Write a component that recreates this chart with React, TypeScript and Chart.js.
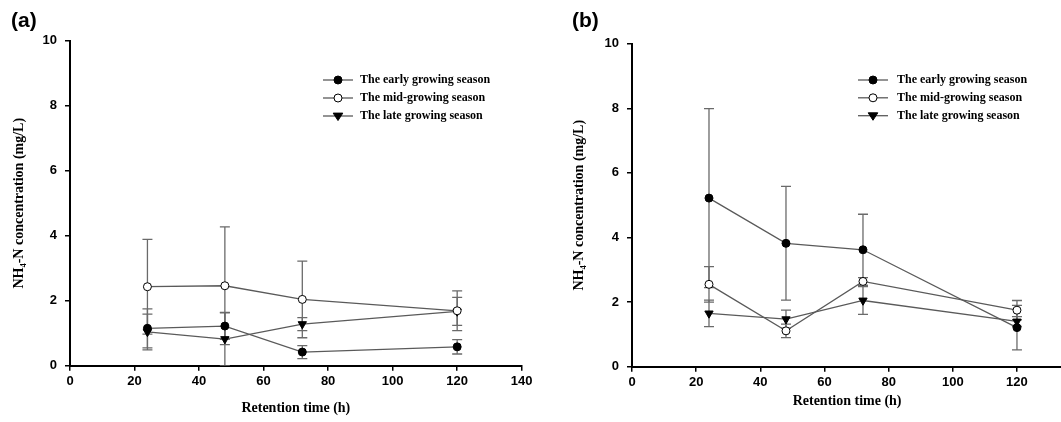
import React, { useEffect, useRef } from 'react';
import { Chart, registerables } from 'chart.js';

Chart.register(...registerables);

// ---------- data ----------
const hours = [24, 48, 72, 120];
const seriesNames = ['The early growing season', 'The mid-growing season', 'The late growing season'];
const xTicksA = [0, 20, 40, 60, 80, 100, 120, 140];
const xTicksB = [0, 20, 40, 60, 80, 100, 120];
const yTicks = [0, 2, 4, 6, 8, 10];
const yTitle = 'NH\u2084-N concentration (mg/L)';
const xTitle = 'Retention time (h)';

// Panel (a)
const earlyA = [1.15, 1.22, 0.42, 0.58];
const earlyAErr = [0.6, 0.41, 0.2, 0.22];
const midA = [2.43, 2.46, 2.04, 1.69];
const midAErr = [1.46, 1.81, 1.18, 0.61];
const lateA = [1.04, 0.82, 1.28, 1.67];
const lateAErr = [0.55, 0.82, 0.2, 0.43];

// Panel (b)
const earlyB = [5.22, 3.82, 3.62, 1.21];
const earlyBErr = [2.77, 1.76, 1.1, 0.69];
const midB = [2.55, 1.11, 2.64, 1.75];
const midBErr = [0.55, 0.21, 0.12, 0.3];
const lateB = [1.65, 1.47, 2.05, 1.4];
const lateBErr = [0.41, 0.28, 0.43, 0.15];

// ---------- styles ----------
const LINE = '#5a5a5a';
const ERR = '#6a6a6a';
const SANS = "'Liberation Sans', Arial, sans-serif";
const SERIF = "'Liberation Serif', 'Times New Roman', serif";

const markerStyles = [
  { style: 'circle', fill: '#000', radius: 4, rotation: 0 },
  { style: 'circle', fill: '#fff', radius: 4, rotation: 0 },
  { style: 'triangle', fill: '#000', radius: 4.8, rotation: 180 },
];

const errorBarPlugin = {
  id: 'errorBars',
  beforeDatasetsDraw(chart: any) {
    const { ctx, chartArea } = chart;
    const xs = chart.scales.x;
    const ys = chart.scales.y;
    ctx.save();
    ctx.beginPath();
    ctx.rect(chartArea.left, chartArea.top - 2, chartArea.right - chartArea.left, chartArea.bottom - chartArea.top + 2);
    ctx.clip();
    ctx.strokeStyle = ERR;
    ctx.lineWidth = 1.3;
    chart.data.datasets.forEach((ds: any) => {
      const errs: number[] = ds.errors || [];
      ds.data.forEach((p: any, i: number) => {
        const e = errs[i] || 0;
        const x = xs.getPixelForValue(p.x);
        const yTop = ys.getPixelForValue(p.y + e);
        const yBot = ys.getPixelForValue(p.y - e);
        const cap = 5;
        ctx.beginPath();
        ctx.moveTo(x, yTop);
        ctx.lineTo(x, yBot);
        ctx.moveTo(x - cap, yTop);
        ctx.lineTo(x + cap, yTop);
        ctx.moveTo(x - cap, yBot);
        ctx.lineTo(x + cap, yBot);
        ctx.stroke();
      });
    });
    ctx.restore();
  },
};

function drawMarker(ctx: CanvasRenderingContext2D, kind: number, x: number, y: number) {
  const m = markerStyles[kind];
  ctx.save();
  ctx.fillStyle = m.fill;
  ctx.strokeStyle = '#000';
  ctx.lineWidth = 1;
  ctx.beginPath();
  if (m.style === 'circle') {
    ctx.arc(x, y, m.radius, 0, Math.PI * 2);
  } else {
    const r = m.radius;
    ctx.moveTo(x - r, y - r * 0.6);
    ctx.lineTo(x + r, y - r * 0.6);
    ctx.lineTo(x, y + r * 0.95);
    ctx.closePath();
  }
  ctx.fill();
  ctx.stroke();
  ctx.restore();
}

const legendPlugin = {
  id: 'innerLegend',
  afterDraw(chart: any, _args: any, opts: any) {
    const { ctx } = chart;
    ctx.save();
    ctx.font = `bold 12px ${SERIF}`;
    ctx.textBaseline = 'middle';
    ctx.textAlign = 'left';
    chart.data.datasets.forEach((ds: any, i: number) => {
      const y = opts.rows[i];
      ctx.strokeStyle = LINE;
      ctx.lineWidth = 1.3;
      ctx.beginPath();
      ctx.moveTo(opts.lineX0, y);
      ctx.lineTo(opts.lineX1, y);
      ctx.stroke();
      drawMarker(ctx, i, opts.markerX, y);
      ctx.fillStyle = '#000';
      ctx.fillText(ds.label, opts.textX, y);
    });
    ctx.restore();
  },
};

const panelLabelPlugin = {
  id: 'panelLabel',
  afterDraw(chart: any, _args: any, opts: any) {
    const { ctx } = chart;
    ctx.save();
    ctx.font = `bold 21px ${SANS}`;
    ctx.fillStyle = '#000';
    ctx.textBaseline = 'middle';
    ctx.textAlign = 'left';
    ctx.fillText(opts.text, opts.x, opts.y);
    ctx.restore();
  },
};

interface PanelSpec {
  label: string;
  labelX: number;
  early: number[];
  earlyErr: number[];
  mid: number[];
  midErr: number[];
  late: number[];
  lateErr: number[];
  xTicks: number[];
  xMax: number;
  yAxisW: number;
  xAxisH: number;
  padTop: number;
  padRight: number;
  yTitlePad: number;
  xTitlePad: number;
  legend: { rows: number[]; lineX0: number; lineX1: number; markerX: number; textX: number };
}

function makeConfig(p: PanelSpec): any {
  const series = [
    [p.early, p.earlyErr],
    [p.mid, p.midErr],
    [p.late, p.lateErr],
  ];
  const datasets = series.map(([vals, errs], i) => ({
    label: seriesNames[i],
    data: hours.map((h, k) => ({ x: h, y: vals[k] })),
    errors: errs,
    borderColor: LINE,
    borderWidth: 1.3,
    pointStyle: markerStyles[i].style,
    pointRotation: markerStyles[i].rotation,
    pointRadius: markerStyles[i].radius,
    pointBackgroundColor: markerStyles[i].fill,
    pointBorderColor: '#000',
    pointBorderWidth: 1,
    tension: 0,
    fill: false,
  }));
  const tickFont = { family: SANS, weight: 'bold', size: 13 };
  const titleFont = { family: SERIF, weight: 'bold', size: 14 };
  return {
    type: 'line',
    data: { datasets },
    options: {
      responsive: false,
      maintainAspectRatio: false,
      animation: false,
      events: [],
      layout: { padding: { left: 0, top: p.padTop, right: p.padRight, bottom: 0 } },
      plugins: {
        legend: { display: false },
        tooltip: { enabled: false },
        innerLegend: p.legend,
        panelLabel: { text: p.label, x: p.labelX, y: 21 },
      },
      scales: {
        x: {
          type: 'linear',
          min: 0,
          max: p.xMax,
          afterBuildTicks: (s: any) => {
            s.ticks = p.xTicks.map((v) => ({ value: v }));
          },
          afterFit: (s: any) => {
            s.height = p.xAxisH;
          },
          ticks: { color: '#000', font: tickFont, padding: 3, maxRotation: 0 },
          grid: { drawOnChartArea: false, drawTicks: true, tickLength: 5, color: '#000', lineWidth: 1.5 },
          border: { display: true, color: '#000', width: 2 },
          title: { display: true, text: xTitle, color: '#000', font: titleFont, padding: { top: 0, bottom: p.xTitlePad } },
        },
        y: {
          type: 'linear',
          min: 0,
          max: 10,
          afterBuildTicks: (s: any) => {
            s.ticks = yTicks.map((v) => ({ value: v }));
          },
          afterFit: (s: any) => {
            s.width = p.yAxisW;
          },
          ticks: { color: '#000', font: tickFont, padding: 8 },
          grid: { drawOnChartArea: false, drawTicks: true, tickLength: 5, color: '#000', lineWidth: 1.5 },
          border: { display: true, color: '#000', width: 2 },
          title: { display: true, text: yTitle, color: '#000', font: titleFont, padding: { top: p.yTitlePad, bottom: 0 } },
        },
      },
    },
    plugins: [errorBarPlugin, legendPlugin, panelLabelPlugin],
  };
}

const CANVAS_H = 422;

const panelA: PanelSpec = {
  label: '(a)',
  labelX: 11,
  early: earlyA,
  earlyErr: earlyAErr,
  mid: midA,
  midErr: midAErr,
  late: lateA,
  lateErr: lateAErr,
  xTicks: xTicksA,
  xMax: 140,
  yAxisW: 70,
  xAxisH: 56.3,
  padTop: 40.7,
  padRight: 23.3,
  yTitlePad: 10.6,
  xTitlePad: 5.6,
  legend: { rows: [80, 98, 116], lineX0: 323, lineX1: 353, markerX: 338, textX: 360 },
};

const B_LEFT = 540;
const B_WIDTH = 528;
const panelB: PanelSpec = {
  label: '(b)',
  labelX: 572 - B_LEFT,
  early: earlyB,
  earlyErr: earlyBErr,
  mid: midB,
  midErr: midBErr,
  late: lateB,
  lateErr: lateBErr,
  xTicks: xTicksB,
  xMax: 134.1,
  yAxisW: 92,
  xAxisH: 55.3,
  padTop: 43.7,
  padRight: 0,
  yTitlePad: 30.6,
  xTitlePad: 12.6,
  legend: {
    rows: [80, 97.8, 115.7],
    lineX0: 858 - B_LEFT,
    lineX1: 888 - B_LEFT,
    markerX: 873 - B_LEFT,
    textX: 897 - B_LEFT,
  },
};

function Panel({ spec, left, width }: { spec: PanelSpec; left: number; width: number }) {
  const ref = useRef<HTMLCanvasElement | null>(null);
  useEffect(() => {
    if (!ref.current) return;
    const chart = new Chart(ref.current, makeConfig(spec));
    return () => chart.destroy();
  }, [spec]);
  return (
    <canvas
      ref={ref}
      width={width}
      height={CANVAS_H}
      style={{ position: 'absolute', left, top: 0, width, height: CANVAS_H }}
    />
  );
}

export default function App() {
  return (
    <div
      style={{
        position: 'absolute',
        left: 0,
        top: 0,
        width: 1061,
        height: 422,
        background: '#fff',
        overflow: 'hidden',
      }}
    >
      <Panel spec={panelA} left={0} width={545} />
      <Panel spec={panelB} left={B_LEFT} width={B_WIDTH} />
    </div>
  );
}
